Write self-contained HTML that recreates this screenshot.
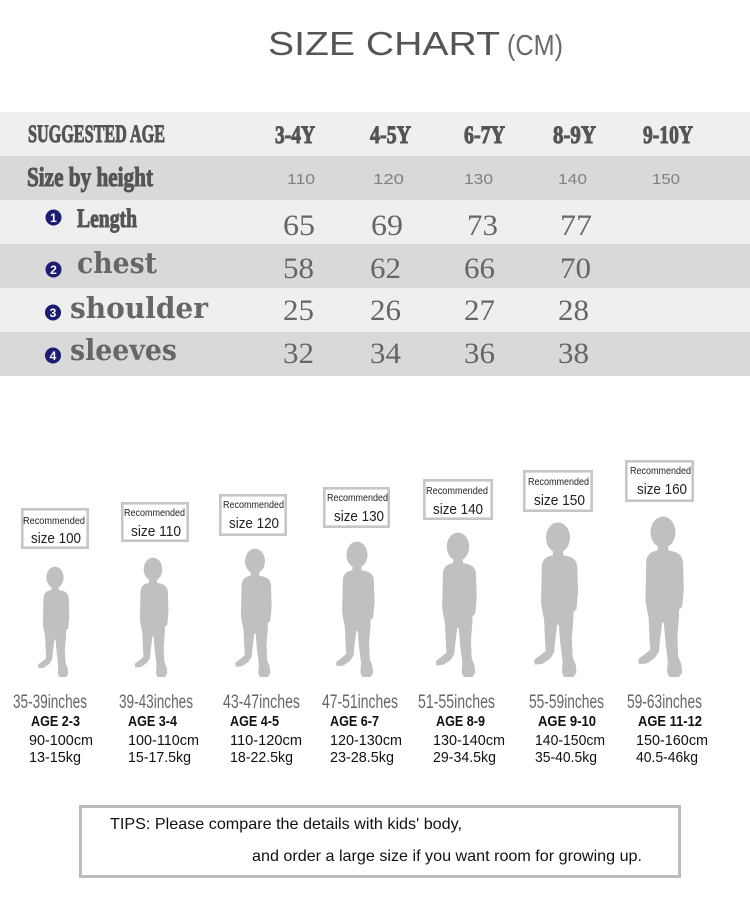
<!DOCTYPE html>
<html>
<head>
<meta charset="utf-8">
<style>
  html, body { margin: 0; padding: 0; background: #ffffff; }
  body { width: 750px; height: 906px; overflow: hidden; }
  svg { display: block; }
  .title { font-family: "Liberation Sans", sans-serif; }
  .hdr { font-family: "Liberation Serif", serif; font-weight: bold; fill: #555; stroke: #555; stroke-width: 1; }
  .lbl { font-family: "DejaVu Serif", "Liberation Serif", serif; font-weight: bold; fill: #666; }
  .num { font-family: "Liberation Serif", serif; fill: #666; }
  .sm { font-family: "Liberation Sans", sans-serif; fill: #808080; }
  .circ { font-family: "Liberation Sans", sans-serif; font-weight: bold; fill: #fff; }
  .rec { font-family: "Liberation Sans", sans-serif; fill: #222; }
  .inch { font-family: "Liberation Sans Narrow", "Liberation Sans", sans-serif; fill: #666; }
  .age { font-family: "Liberation Sans", sans-serif; font-weight: bold; fill: #111; }
  .inf { font-family: "Liberation Sans", sans-serif; fill: #111; }
  .tip { font-family: "Liberation Sans", sans-serif; fill: #111; }
</style>
</head>
<body>
<svg width="750" height="906" viewBox="0 0 750 906" xmlns="http://www.w3.org/2000/svg">
  <defs>
    <g id="kid">
      <ellipse cx="0" cy="9.5" rx="7.8" ry="9.8"/>
      <path d="M -3 17 L 3 17 L 3.5 21 C 8 21.5, 12 23, 12.5 28 L 13 45 L 12 56 L 10 58 L 10 62 L 9 75 L 9.5 87 L 11.5 92 L 12 97 L 10 100 L 4 100 L 2.5 97 L 3 90 L 1.5 78 L 0.5 66 L -0.5 66 L -2 78 L -2.5 84 L -5 88 L -10 91.5 L -15 92 L -15.5 89 L -11 85.5 L -8 83 L -8.5 75 L -9 63 L -10 58 L -11 52 L -10.5 28 C -10 23, -7 21.5, -3.5 21 Z"/>
    </g>
  </defs>

  <!-- Title -->
  <text class="title" x="268" y="55" font-size="33" fill="#555" textLength="232" lengthAdjust="spacingAndGlyphs">SIZE CHART</text>
  <text class="title" x="507" y="55" font-size="29" fill="#6a6a6a" textLength="56" lengthAdjust="spacingAndGlyphs">(CM)</text>

  <!-- Table rows -->
  <rect x="0" y="112" width="750" height="44" fill="#efefef"/>
  <rect x="0" y="156" width="750" height="44" fill="#d9d9d9"/>
  <rect x="0" y="200" width="750" height="44" fill="#efefef"/>
  <rect x="0" y="244" width="750" height="44" fill="#d9d9d9"/>
  <rect x="0" y="288" width="750" height="44" fill="#efefef"/>
  <rect x="0" y="332" width="750" height="44" fill="#d9d9d9"/>

  <!-- Header row -->
  <text class="hdr" x="28" y="142" font-size="25" textLength="137" lengthAdjust="spacingAndGlyphs">SUGGESTED AGE</text>
  <text class="hdr" x="275" y="143" font-size="25" textLength="40" lengthAdjust="spacingAndGlyphs">3-4Y</text>
  <text class="hdr" x="370" y="143" font-size="25" textLength="41" lengthAdjust="spacingAndGlyphs">4-5Y</text>
  <text class="hdr" x="464" y="143" font-size="25" textLength="41" lengthAdjust="spacingAndGlyphs">6-7Y</text>
  <text class="hdr" x="553" y="143" font-size="25" textLength="43" lengthAdjust="spacingAndGlyphs">8-9Y</text>
  <text class="hdr" x="643" y="143" font-size="25" textLength="50" lengthAdjust="spacingAndGlyphs">9-10Y</text>

  <!-- Size by height -->
  <text class="hdr" x="27" y="186" font-size="27" textLength="126" lengthAdjust="spacingAndGlyphs">Size by height</text>
  <text class="sm" x="287" y="184" font-size="15" textLength="28" lengthAdjust="spacingAndGlyphs">110</text>
  <text class="sm" x="373" y="184" font-size="15" textLength="31" lengthAdjust="spacingAndGlyphs">120</text>
  <text class="sm" x="464" y="184" font-size="15" textLength="29" lengthAdjust="spacingAndGlyphs">130</text>
  <text class="sm" x="558" y="184" font-size="15" textLength="29" lengthAdjust="spacingAndGlyphs">140</text>
  <text class="sm" x="652" y="184" font-size="15" textLength="28" lengthAdjust="spacingAndGlyphs">150</text>

  <!-- Length -->
  <circle cx="53.5" cy="217.5" r="8" fill="#1c1c73"/>
  <text class="circ" x="53.5" y="221.8" font-size="12" text-anchor="middle">1</text>
  <text class="hdr" x="77" y="227" font-size="26" textLength="60" lengthAdjust="spacingAndGlyphs">Length</text>
  <text class="num" x="283" y="235" font-size="30" textLength="32" lengthAdjust="spacingAndGlyphs">65</text>
  <text class="num" x="371" y="235" font-size="30" textLength="32" lengthAdjust="spacingAndGlyphs">69</text>
  <text class="num" x="467" y="235" font-size="30" textLength="31" lengthAdjust="spacingAndGlyphs">73</text>
  <text class="num" x="560" y="235" font-size="30" textLength="32" lengthAdjust="spacingAndGlyphs">77</text>

  <!-- chest -->
  <circle cx="53.5" cy="269.5" r="8" fill="#1c1c73"/>
  <text class="circ" x="53.5" y="273.8" font-size="12" text-anchor="middle">2</text>
  <text class="lbl" x="77" y="273" font-size="29" textLength="80" lengthAdjust="spacingAndGlyphs">chest</text>
  <text class="num" x="283" y="278" font-size="30" textLength="31" lengthAdjust="spacingAndGlyphs">58</text>
  <text class="num" x="370" y="278" font-size="30" textLength="31" lengthAdjust="spacingAndGlyphs">62</text>
  <text class="num" x="464" y="278" font-size="30" textLength="31" lengthAdjust="spacingAndGlyphs">66</text>
  <text class="num" x="560" y="278" font-size="30" textLength="31" lengthAdjust="spacingAndGlyphs">70</text>

  <!-- shoulder -->
  <circle cx="53" cy="312.5" r="8" fill="#1c1c73"/>
  <text class="circ" x="53" y="316.8" font-size="12" text-anchor="middle">3</text>
  <text class="lbl" x="70" y="318" font-size="29" textLength="138" lengthAdjust="spacingAndGlyphs">shoulder</text>
  <text class="num" x="283" y="320" font-size="30" textLength="31" lengthAdjust="spacingAndGlyphs">25</text>
  <text class="num" x="370" y="320" font-size="30" textLength="31" lengthAdjust="spacingAndGlyphs">26</text>
  <text class="num" x="464" y="320" font-size="30" textLength="31" lengthAdjust="spacingAndGlyphs">27</text>
  <text class="num" x="558" y="320" font-size="30" textLength="31" lengthAdjust="spacingAndGlyphs">28</text>

  <!-- sleeves -->
  <circle cx="53" cy="355.5" r="8" fill="#1c1c73"/>
  <text class="circ" x="53" y="359.8" font-size="12" text-anchor="middle">4</text>
  <text class="lbl" x="70" y="360" font-size="29" textLength="107" lengthAdjust="spacingAndGlyphs">sleeves</text>
  <text class="num" x="283" y="363" font-size="30" textLength="31" lengthAdjust="spacingAndGlyphs">32</text>
  <text class="num" x="370" y="363" font-size="30" textLength="31" lengthAdjust="spacingAndGlyphs">34</text>
  <text class="num" x="464" y="363" font-size="30" textLength="31" lengthAdjust="spacingAndGlyphs">36</text>
  <text class="num" x="558" y="363" font-size="30" textLength="31" lengthAdjust="spacingAndGlyphs">38</text>

  <!-- Recommended boxes -->
  <g fill="#ffffff" stroke="#c6c6c6" stroke-width="2.6">
    <rect x="22.3" y="509.3" width="65.4" height="38.4"/>
    <rect x="122.3" y="503.3" width="65.4" height="37.4"/>
    <rect x="220.3" y="495.3" width="65.4" height="39.4"/>
    <rect x="324.3" y="488.3" width="64.4" height="38.4"/>
    <rect x="424.3" y="480.3" width="67.4" height="38.4"/>
    <rect x="524.3" y="471.3" width="67.4" height="39.4"/>
    <rect x="626.3" y="461.3" width="66.4" height="39.4"/>
  </g>
  <text class="rec" x="23" y="524" font-size="10" textLength="62" lengthAdjust="spacingAndGlyphs">Recommended</text>
  <text class="rec" x="31" y="543" font-size="15" textLength="50" lengthAdjust="spacingAndGlyphs">size 100</text>
  <text class="rec" x="124" y="516" font-size="10" textLength="61" lengthAdjust="spacingAndGlyphs">Recommended</text>
  <text class="rec" x="131" y="536" font-size="15" textLength="50" lengthAdjust="spacingAndGlyphs">size 110</text>
  <text class="rec" x="223" y="508" font-size="10" textLength="61" lengthAdjust="spacingAndGlyphs">Recommended</text>
  <text class="rec" x="229" y="528" font-size="15" textLength="50" lengthAdjust="spacingAndGlyphs">size 120</text>
  <text class="rec" x="327" y="501" font-size="10" textLength="61" lengthAdjust="spacingAndGlyphs">Recommended</text>
  <text class="rec" x="334" y="521" font-size="15" textLength="50" lengthAdjust="spacingAndGlyphs">size 130</text>
  <text class="rec" x="426" y="494" font-size="10" textLength="62" lengthAdjust="spacingAndGlyphs">Recommended</text>
  <text class="rec" x="433" y="514" font-size="15" textLength="50" lengthAdjust="spacingAndGlyphs">size 140</text>
  <text class="rec" x="528" y="485" font-size="10" textLength="61" lengthAdjust="spacingAndGlyphs">Recommended</text>
  <text class="rec" x="534" y="505" font-size="15" textLength="51" lengthAdjust="spacingAndGlyphs">size 150</text>
  <text class="rec" x="630" y="474" font-size="10" textLength="61" lengthAdjust="spacingAndGlyphs">Recommended</text>
  <text class="rec" x="637" y="494" font-size="15" textLength="50" lengthAdjust="spacingAndGlyphs">size 160</text>

  <!-- Kid silhouettes -->
  <g fill="#c0c0c0">
    <use href="#kid" transform="translate(55,567) scale(1.10)"/>
    <use href="#kid" transform="translate(153,558) scale(1.19)"/>
    <use href="#kid" transform="translate(255,549) scale(1.28)"/>
    <use href="#kid" transform="translate(357,542) scale(1.35)"/>
    <use href="#kid" transform="translate(458,533) scale(1.44)"/>
    <use href="#kid" transform="translate(558,523) scale(1.54)"/>
    <use href="#kid" transform="translate(663,517) scale(1.60)"/>
  </g>

  <!-- Inches labels -->
  <text class="inch" x="13" y="708" font-size="19" textLength="74" lengthAdjust="spacingAndGlyphs">35-39inches</text>
  <text class="inch" x="119" y="708" font-size="19" textLength="74" lengthAdjust="spacingAndGlyphs">39-43inches</text>
  <text class="inch" x="223" y="708" font-size="19" textLength="77" lengthAdjust="spacingAndGlyphs">43-47inches</text>
  <text class="inch" x="322" y="708" font-size="19" textLength="76" lengthAdjust="spacingAndGlyphs">47-51inches</text>
  <text class="inch" x="418" y="708" font-size="19" textLength="77" lengthAdjust="spacingAndGlyphs">51-55inches</text>
  <text class="inch" x="529" y="708" font-size="19" textLength="75" lengthAdjust="spacingAndGlyphs">55-59inches</text>
  <text class="inch" x="627" y="708" font-size="19" textLength="75" lengthAdjust="spacingAndGlyphs">59-63inches</text>

  <!-- AGE labels -->
  <text class="age" x="31" y="726" font-size="15" textLength="49" lengthAdjust="spacingAndGlyphs">AGE 2-3</text>
  <text class="age" x="128" y="726" font-size="15" textLength="49" lengthAdjust="spacingAndGlyphs">AGE 3-4</text>
  <text class="age" x="230" y="726" font-size="15" textLength="49" lengthAdjust="spacingAndGlyphs">AGE 4-5</text>
  <text class="age" x="330" y="726" font-size="15" textLength="49" lengthAdjust="spacingAndGlyphs">AGE 6-7</text>
  <text class="age" x="436" y="726" font-size="15" textLength="49" lengthAdjust="spacingAndGlyphs">AGE 8-9</text>
  <text class="age" x="538" y="726" font-size="15" textLength="58" lengthAdjust="spacingAndGlyphs">AGE 9-10</text>
  <text class="age" x="638" y="726" font-size="15" textLength="64" lengthAdjust="spacingAndGlyphs">AGE 11-12</text>

  <!-- cm labels -->
  <text class="inf" x="29" y="745" font-size="15" textLength="64" lengthAdjust="spacingAndGlyphs">90-100cm</text>
  <text class="inf" x="128" y="745" font-size="15" textLength="71" lengthAdjust="spacingAndGlyphs">100-110cm</text>
  <text class="inf" x="230" y="745" font-size="15" textLength="72" lengthAdjust="spacingAndGlyphs">110-120cm</text>
  <text class="inf" x="330" y="745" font-size="15" textLength="72" lengthAdjust="spacingAndGlyphs">120-130cm</text>
  <text class="inf" x="433" y="745" font-size="15" textLength="72" lengthAdjust="spacingAndGlyphs">130-140cm</text>
  <text class="inf" x="535" y="745" font-size="15" textLength="70" lengthAdjust="spacingAndGlyphs">140-150cm</text>
  <text class="inf" x="636" y="745" font-size="15" textLength="72" lengthAdjust="spacingAndGlyphs">150-160cm</text>

  <!-- kg labels -->
  <text class="inf" x="29" y="762" font-size="15" textLength="52" lengthAdjust="spacingAndGlyphs">13-15kg</text>
  <text class="inf" x="128" y="762" font-size="15" textLength="63" lengthAdjust="spacingAndGlyphs">15-17.5kg</text>
  <text class="inf" x="230" y="762" font-size="15" textLength="63" lengthAdjust="spacingAndGlyphs">18-22.5kg</text>
  <text class="inf" x="330" y="762" font-size="15" textLength="64" lengthAdjust="spacingAndGlyphs">23-28.5kg</text>
  <text class="inf" x="433" y="762" font-size="15" textLength="63" lengthAdjust="spacingAndGlyphs">29-34.5kg</text>
  <text class="inf" x="535" y="762" font-size="15" textLength="62" lengthAdjust="spacingAndGlyphs">35-40.5kg</text>
  <text class="inf" x="636" y="762" font-size="15" textLength="62" lengthAdjust="spacingAndGlyphs">40.5-46kg</text>

  <!-- Tips box -->
  <rect x="80.5" y="806.5" width="599" height="70" fill="#ffffff" stroke="#bbbbbb" stroke-width="3"/>
  <text class="tip" x="110" y="829" font-size="16" textLength="352" lengthAdjust="spacingAndGlyphs">TIPS: Please compare the details with kids' body,</text>
  <text class="tip" x="252" y="861" font-size="16" textLength="390" lengthAdjust="spacingAndGlyphs">and order a large size if you want room for growing up.</text>
</svg>
</body>
</html>
